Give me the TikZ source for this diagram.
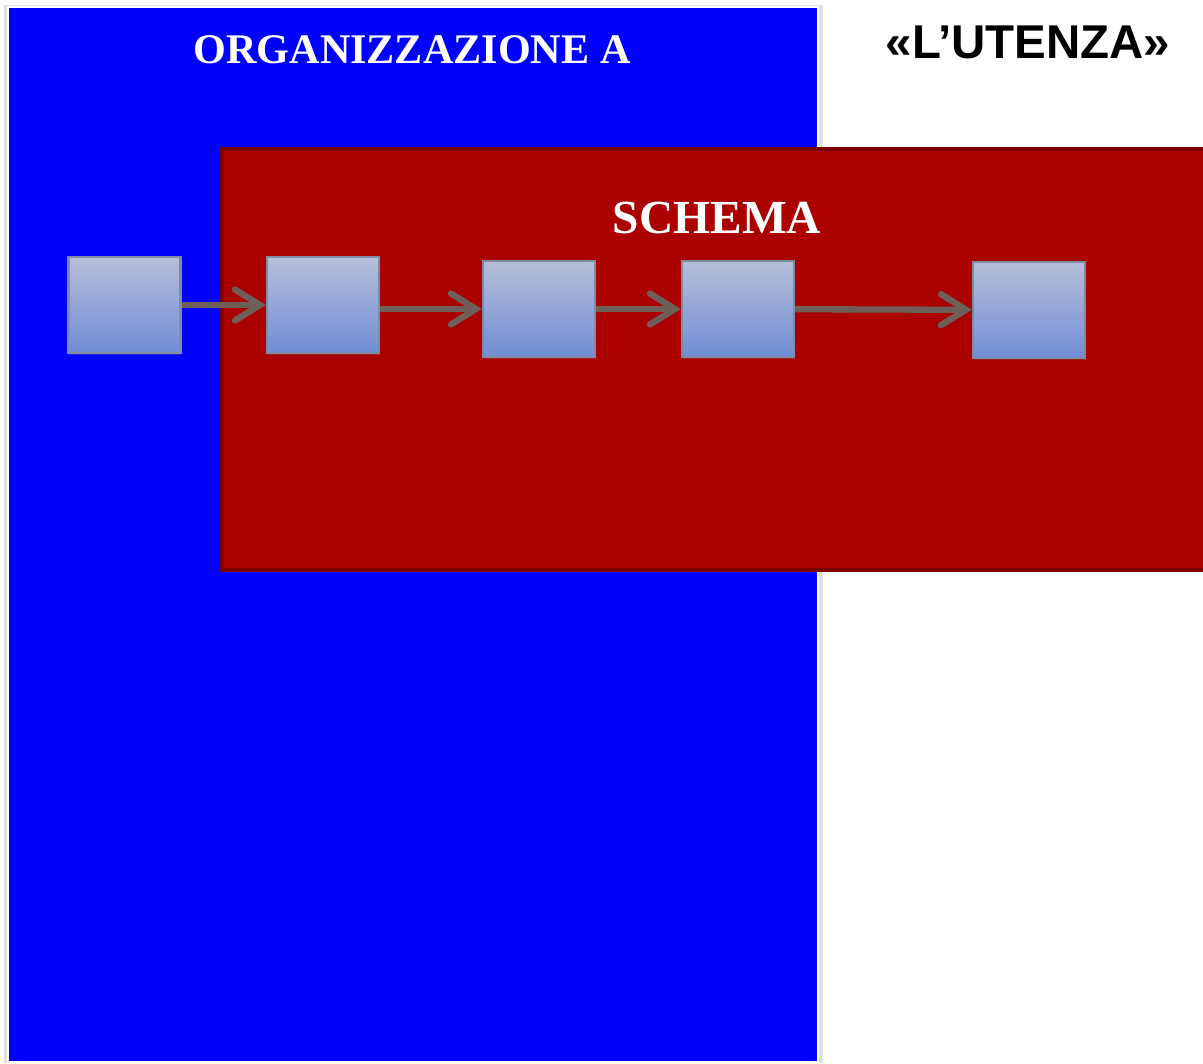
\documentclass[tikz,border=0pt]{standalone}
\usepackage{fontspec}
\setmainfont{Liberation Serif}
\newfontfamily\arialfont{Liberation Sans}
\usetikzlibrary{arrows.meta, shadows}
\definecolor{orgblue}{RGB}{0, 0, 255}
\definecolor{schemared}{RGB}{170, 0, 0}
\definecolor{schemaedge}{RGB}{125, 0, 0}
\definecolor{boxtop}{RGB}{182, 190, 216}
\definecolor{boxbottom}{RGB}{112, 142, 214}
\definecolor{boxedge}{RGB}{128, 140, 165}
\definecolor{flowgray}{RGB}{110, 96, 88}

\tikzset{
  stepbox/.style={draw=boxedge, line width=1.2pt, top color=boxtop, bottom color=boxbottom,
    minimum width=2.24cm, minimum height=1.92cm, inner sep=0pt,
    drop shadow={opacity=0.25, shadow xshift=0.5pt, shadow yshift=-1pt}},
  flow/.style={draw=flowgray, line width=3.6pt,
    -{Straight Barb[length=0.5cm, width=0.62cm, line cap=round, line width=3.6pt]}}
}

\begin{document}
\begin{tikzpicture}[x=0.02cm, y=-0.02cm]
  \useasboundingbox (0,0) rectangle (1203,1063);

  % Organizzazione A
  \fill[black!12] (4,5) rectangle (823,1063);
  \node[fill=orgblue, draw=white, line width=1.2pt, inner sep=0pt, minimum width=16.2cm, minimum height=21.1cm] (org) at (413,534.5) {};
  \node[text=white, font=\fontsize{24}{27}\selectfont\bfseries] (orglabel) at (412,50) {ORGANIZZAZIONE A};

  % Utenza
  \node[font=\arialfont\fontsize{27}{30}\selectfont\bfseries] (utenza) at (1028,42) {«L’UTENZA»};

  % Schema
  \node[fill=schemared, draw=schemaedge, line width=2pt, inner sep=0pt, minimum width=19.76cm, minimum height=8.42cm] (schema) at (716,359.5) {};
  \node[text=white, font=\fontsize{27}{30}\selectfont\bfseries] (schemalabel) at (717,218) {SCHEMA};

  % Passi
  \node[stepbox] (s1) at (124.5,305) {};
  \node[stepbox] (s2) at (323,305) {};
  \node[stepbox] (s3) at (539,309) {};
  \node[stepbox] (s4) at (738,309) {};
  \node[stepbox] (s5) at (1029,310) {};

  \draw[flow] (s1) -- (s2);
  \draw[flow] (s2.east |- s3) -- (s3);
  \draw[flow] (s3) -- (s4);
  \draw[flow] (s4) -- (s5);
\end{tikzpicture}
\end{document}
